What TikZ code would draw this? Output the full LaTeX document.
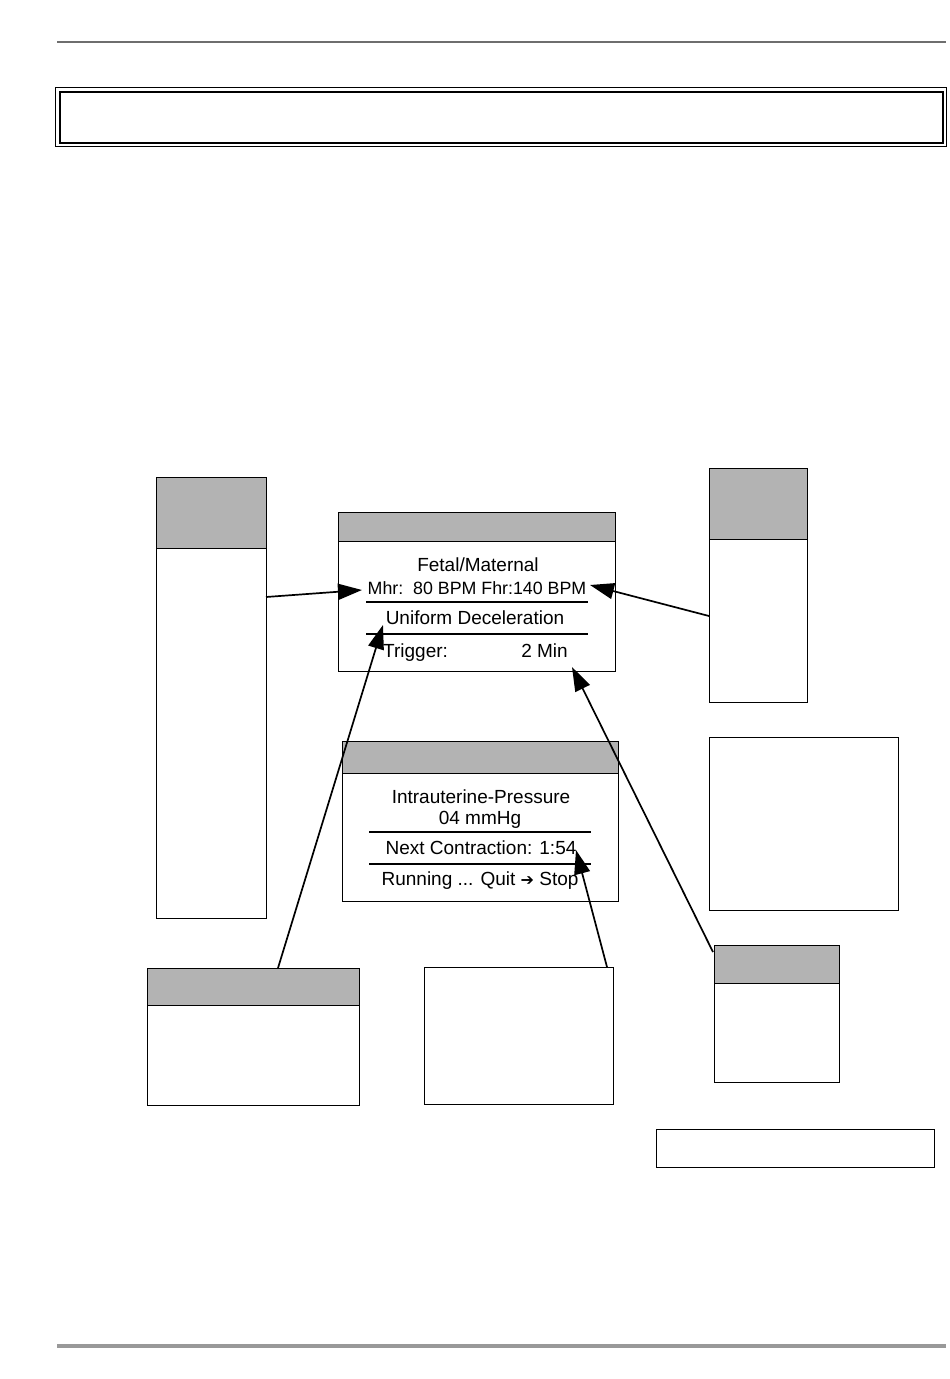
\documentclass[tikz,border=0pt]{standalone}
\usepackage{fontspec}
\setmainfont{Liberation Sans}
\newfontfamily\symfont{DejaVu Sans}
\usetikzlibrary{arrows.meta}
\definecolor{hdrgray}{HTML}{B3B3B3}
\definecolor{rulegray}{HTML}{999999}
\definecolor{toprule}{HTML}{6E6E6E}
\tikzset{
  panel/.style={draw=black, fill=white, line width=1.2pt, inner sep=0pt, anchor=north west},
  hdr/.style={draw=black, fill=hdrgray, line width=1.2pt, inner sep=0pt, anchor=north west},
  lcd/.style={inner sep=0pt, font=\fontsize{19}{21}\selectfont},
  sep/.style={line width=1.8pt},
  arr/.style={line width=1.7pt, -{Triangle[length=24pt,width=16pt]}}
}
\begin{document}
\begin{tikzpicture}[x=1pt,y=-1pt]
\useasboundingbox (0,0) rectangle (950,1379);
% page rules
\draw[toprule, line width=1.2pt] (57,42) -- (946,42);
\draw[rulegray, line width=4pt] (57,1346) -- (946,1346);
% title frame
\node[draw=black, line width=1pt, minimum width=891, minimum height=59, inner sep=0pt, anchor=north west] (title) at (55,87) {};
\node[draw=black, line width=2pt, minimum width=883, minimum height=51, inner sep=0pt, anchor=north west] (titlein) at (59,91) {};

% left tall box
\node[panel, minimum width=110, minimum height=441] (lbox) at (156,477) {};
\node[hdr, minimum width=110, minimum height=71] (lboxh) at (156,477) {};
% right tall box
\node[panel, minimum width=98, minimum height=234] (rbox) at (709,468) {};
\node[hdr, minimum width=98, minimum height=71] (rboxh) at (709,468) {};
% right square box
\node[panel, minimum width=189, minimum height=173] (sqbox) at (709,737) {};
% small bottom-right box
\node[panel, minimum width=125, minimum height=137] (brbox) at (714,945) {};
\node[hdr, minimum width=125, minimum height=38] (brboxh) at (714,945) {};
% note box
\node[panel, minimum width=278, minimum height=38] (note) at (656,1129) {};
% bottom-left box
\node[panel, minimum width=212, minimum height=137] (blbox) at (147,968) {};
\node[hdr, minimum width=212, minimum height=37] (blboxh) at (147,968) {};
% bottom-middle box
\node[panel, minimum width=189, minimum height=137] (bmbox) at (424,967) {};

% screen 1
\node[panel, minimum width=277, minimum height=159] (scr1) at (338,512) {};
\node[hdr, minimum width=277, minimum height=29] (scr1h) at (338,512) {};
\node[lcd, anchor=base] (fm) at (478,571) {Fetal/Maternal};
\node[lcd, anchor=base, font=\fontsize{17.8}{21}\selectfont] (mhr) at (477,594) {Mhr:\ \ 80 BPM Fhr:140 BPM};
\draw[sep] (366,602) -- (588,602);
\node[lcd, anchor=base] (unif) at (475,624) {Uniform Deceleration};
\draw[sep] (366,634) -- (588,634);
\node[lcd, anchor=base west] (trig) at (383,657) {Trigger:};
\node[lcd, anchor=base east] (tmin) at (568,657) {2 Min};

% screen 2
\node[panel, minimum width=276, minimum height=160] (scr2) at (342,741) {};
\node[hdr, minimum width=276, minimum height=32] (scr2h) at (342,741) {};
\node[lcd, anchor=base] (iup) at (481,803) {Intrauterine-Pressure};
\node[lcd, anchor=base] (mmhg) at (480,824) {04 mmHg};
\draw[sep] (369,832) -- (591,832);
\node[lcd, anchor=base] (nextc) at (481,854) {Next Contraction: 1:54};
\draw[sep] (369,864) -- (591,864);
\node[lcd, anchor=base] (run) at (480,885) {Running ... Quit {\symfont\fontsize{16}{18}\selectfont ➔} Stop};

% connector endpoints
\coordinate (a1s) at (266,597);
\coordinate (a1e) at (362,590);
\coordinate (a2s) at (709,616);
\coordinate (a2e) at (590,585);
\coordinate (a3s) at (278,968);
\coordinate (a3e) at (383,625);
\coordinate (a4s) at (713,952);
\coordinate (a4e) at (572,667);
\coordinate (a5s) at (607,967);
\coordinate (a5e) at (576,850);

\draw[arr] (a1s) -- (a1e);
\draw[arr] (a2s) -- (a2e);
\draw[arr] (a3s) -- (a3e);
\draw[arr] (a4s) -- (a4e);
\draw[arr] (a5s) -- (a5e);
\end{tikzpicture}
\end{document}
